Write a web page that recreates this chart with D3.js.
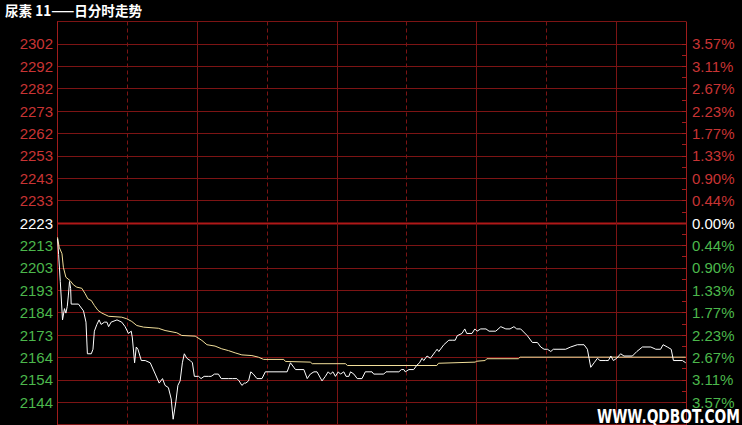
<!DOCTYPE html>
<html><head><meta charset="utf-8">
<script src="https://cdn.jsdelivr.net/npm/d3@7/dist/d3.min.js"></script>
<style>
html,body{margin:0;padding:0;background:#000;}
svg{display:block;}
</style></head>
<body>
<script>
const title = "尿素 11——日分时走势";
const watermark = "WWW.QDBOT.COM";
const preSettle = 2223;
const rangePct = 0.0357;
const sessionMinutes = 225;
const gridSections = 9;
const leftTicks = ["2302","2292","2282","2273","2262","2253","2243","2233","2223","2213","2203","2193","2184","2173","2164","2154","2144"];
const rightTicks = ["3.57%","3.11%","2.67%","2.23%","1.77%","1.33%","0.90%","0.44%","0.00%","0.44%","0.90%","1.33%","1.77%","2.23%","2.67%","3.11%","3.57%"];

// last price (white line): minute offset and price
const priceMinutes = [0,0.4,1.0,1.8,2.5,3.0,3.5,3.9,4.3,4.7,4.9,7.5,9.3,10.2,10.7,12.1,12.7,13.2,14.1,14.9,15.6,16.8,17.7,18.3,19.2,21.3,23.0,24.2,25.4,26.4,26.8,27.6,28.2,28.8,30.0,31.4,33.2,35.0,36.4,37.6,38.5,39.7,40.7,41.4,42.4,43.1,43.9,44.7,45.4,46.3,47.5,48.3,49.0,50.5,51.4,52.5,54.0,55.0,56.2,57.6,58.6,61.2,62.6,64.2,65.0,66.0,66.9,67.4,68.4,69.2,70.1,71.4,73.2,74.4,82.2,83.4,84.6,85.2,88.2,89.4,90.5,91.8,92.9,94.7,95.9,96.9,97.7,98.6,99.5,100.5,101.3,102.5,103.3,104.3,104.9,106.1,107.3,109.0,110.2,112.6,113.2,116.8,117.6,122.2,123.1,124.0,124.5,125.8,127.5,128.7,129.6,130.5,131.1,132.3,133.5,135.3,135.9,136.5,137.7,138.3,140.1,141.3,142.4,143.1,144.8,145.8,146.5,148.4,149.4,150.2,151.5,153.4,154.5,156.9,158.7,160.5,162.0,163.4,164.4,165.8,168.2,170.0,171.8,173.0,174.2,175.4,176.6,177.5,181.9,183.7,186.1,188.5,189.7,190.3,190.9,192.1,193.3,194.2,196.3,197.2,198.1,199.0,200.2,201.6,202.8,205.8,207.4,209.4,212.4,214.2,215.9,216.8,218.3,219.7,220.5,223.7,224.9];
const prices = [2216,2209,2197,2180,2185,2183,2186,2191,2197,2194,2187,2187,2184,2179,2165,2165,2167,2175,2178,2180,2178,2179,2179,2177,2179,2180,2179,2177,2174,2175,2172,2161,2168,2167,2162,2162,2161,2156,2152,2154,2151,2150,2145,2136,2144,2151,2153,2161,2165,2163,2162,2161,2155,2155,2154,2155,2155,2155,2156,2156,2154,2154,2154,2154,2153,2151,2152,2152,2153,2157,2156,2154,2154,2157,2157,2161,2159,2158,2158,2154,2156,2157,2157,2153,2155,2157,2156,2157,2155,2157,2156,2157,2155,2155,2157,2156,2154,2154,2157,2157,2156,2156,2157,2157,2158,2158,2157,2158,2158,2160,2161,2163,2162,2164,2163,2166,2167,2166,2168,2169,2171,2171,2171,2173,2174,2176,2174,2174,2176,2175,2176,2176,2175,2175,2177,2176,2176,2177,2176,2176,2173,2170,2170,2168,2167,2167,2166,2167,2167,2168,2169,2169,2167,2163,2159,2161,2163,2162,2162,2162,2164,2162,2163,2165,2164,2164,2166,2168,2168,2167,2167,2169,2168,2167,2162,2162,2161];

// average price (yellow line)
const avgMinutes = [0,0.6,1.6,2.1,3.0,4.5,5.7,6.9,8.7,9.9,10.9,12.1,13.2,14.5,15.9,18.3,23.0,24.8,26.6,28.4,30.8,36.1,38.5,42.7,44.5,49.3,51.7,53.5,56.4,58.8,61.2,63.6,66.0,69.6,71.9,73.8,81.0,81.6,90.5,91.2,103.1,103.8,135.8,136.4,149.5,150.1,153.1,153.7,165.0,165.6,224.9];
const avgPrices = [2216.6,2212.2,2209.3,2203.3,2198.9,2197.4,2195.5,2194.5,2194.0,2191.6,2189.3,2188.6,2186.4,2184.2,2183.0,2181.6,2181.2,2180.5,2179.3,2177.5,2176.8,2176.3,2175.3,2174.3,2173.1,2172.8,2170.9,2169.0,2168.4,2167.2,2166.4,2165.4,2164.5,2164.2,2163.5,2162.5,2162.5,2161.6,2161.3,2160.6,2160.6,2159.8,2159.8,2160.8,2161.3,2161.7,2162.0,2162.8,2162.8,2163.5,2163.5];

const W = 742, H = 425;
const plot = {left: 57, right: 686, top: 43.6, bottom: 402};
const svg = d3.select("body").append("svg").attr("width", W).attr("height", H)
  .style("background", "#000");

const hi = preSettle * (1 + rangePct), lo = preSettle * (1 - rangePct);
const y = d3.scaleLinear().domain([lo, hi]).range([plot.bottom, plot.top]);
const x = d3.scaleLinear().domain([0, sessionMinutes]).range([plot.left + 0.5, plot.right]);
const tickVals = leftTicks.map((d, i) => hi - i * (hi - lo) / (leftTicks.length - 1));
const step = (hi - lo) / (leftTicks.length - 1);
const crisp = v => Math.round(v) + 0.5;

const grid = svg.append("g");
// horizontal grid lines (including one above and one below labels)
const hVals = [hi + step].concat(tickVals, [lo - step]);
grid.selectAll("line.h").data(hVals).join("line")
  .attr("x1", plot.left).attr("x2", plot.right)
  .attr("y1", d => crisp(y(d))).attr("y2", d => crisp(y(d)))
  .attr("stroke", (d, i) => i === 9 ? "#b01818" : "#7c1414")
  .attr("stroke-width", (d, i) => i === 9 ? 2 : 1);

// vertical grid lines
const vIdx = d3.range(0, gridSections + 1);
const xs = d3.scaleLinear().domain([0, gridSections]).range([plot.left, plot.right]);
grid.selectAll("line.v").data(vIdx).join("line")
  .attr("x1", d => crisp(xs(d))).attr("x2", d => crisp(xs(d)))
  .attr("y1", crisp(y(hi + step))).attr("y2", H)
  .attr("stroke", d => (d === 0 || d === gridSections) ? "#a01c1c" : "#7c1414")
  .attr("stroke-dasharray", d => (d % 2 === 1 && d !== gridSections) ? "4,3" : null);

// minor ticks on right border
const minor = d3.range(0, (leftTicks.length - 1) * 2 + 1).map(i => hi - i * step / 2);
grid.selectAll("line.m").data(minor).join("line")
  .attr("x1", plot.right - 4).attr("x2", plot.right)
  .attr("y1", d => crisp(y(d))).attr("y2", d => crisp(y(d)))
  .attr("stroke", "#a01c1c");

// axes
const colorFor = i => i < 8 ? "#c83434" : (i === 8 ? "#ffffff" : "#4cb84c");
const leftAxis = d3.axisLeft(y).tickValues(tickVals).tickSize(0).tickPadding(4)
  .tickFormat((d, i) => leftTicks[i]);
const la = svg.append("g").attr("transform", `translate(${plot.left},0.5)`).call(leftAxis);
la.select(".domain").remove();
la.selectAll("text").attr("fill", (d, i) => colorFor(i))
  .style("font-family", "'Liberation Sans', Arial, sans-serif").style("font-size", "15px");

const rightAxis = d3.axisRight(y).tickValues(tickVals).tickSize(0).tickPadding(6)
  .tickFormat((d, i) => rightTicks[i]);
const ra = svg.append("g").attr("transform", `translate(${plot.right},0.5)`).call(rightAxis);
ra.select(".domain").remove();
ra.selectAll("text").attr("fill", (d, i) => colorFor(i))
  .style("font-family", "'Liberation Sans', Arial, sans-serif").style("font-size", "15px");

// lines
const avgData = avgMinutes.map((m, i) => [m, avgPrices[i]]);
const priceData = priceMinutes.map((m, i) => [m, prices[i]]);
const line = d3.line().x(d => x(d[0])).y(d => y(d[1]));
svg.append("path").datum(avgData).attr("d", line)
  .attr("fill", "none").attr("stroke", "#f2df9a").attr("stroke-width", 1);
svg.append("path").datum(priceData).attr("d", line)
  .attr("fill", "none").attr("stroke", "#ffffff").attr("stroke-width", 1);

// title
svg.append("text").attr("x", 5).attr("y", 16).text(title)
  .attr("fill", "#fff").attr("font-weight", "bold")
  .attr("textLength", 137).attr("lengthAdjust", "spacingAndGlyphs")
  .style("font-family", "'Noto Sans CJK SC', sans-serif").style("font-size", "14px");

// watermark
svg.append("text").attr("x", 597).attr("y", 423).text(watermark)
  .attr("fill", "#fff").attr("font-weight", "bold")
  .attr("textLength", 143).attr("lengthAdjust", "spacingAndGlyphs")
  .style("font-family", "'DejaVu Sans', sans-serif").style("font-size", "20px");
</script>
</body></html>
